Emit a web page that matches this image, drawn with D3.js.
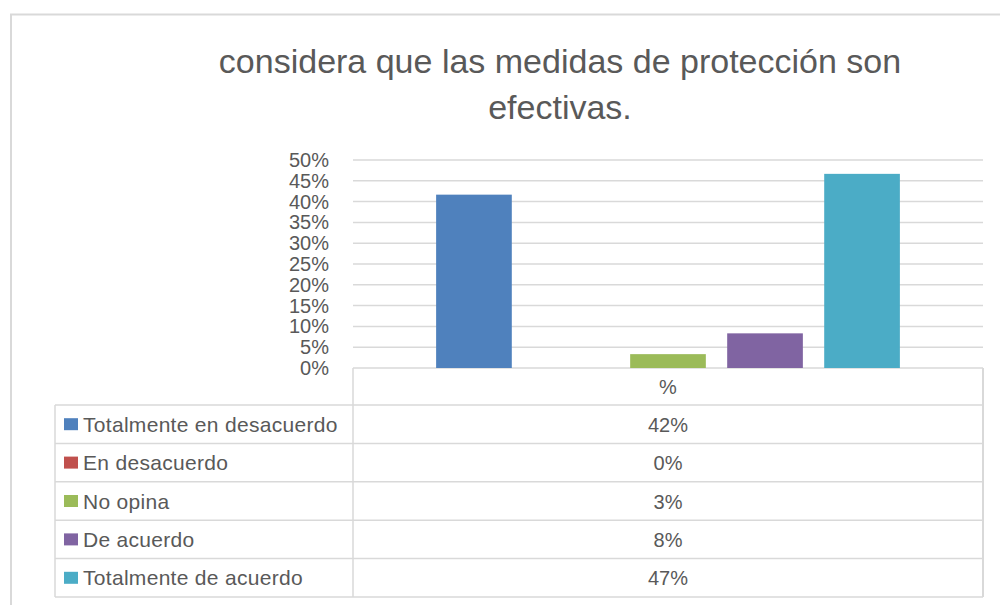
<!DOCTYPE html>
<html>
<head>
<meta charset="utf-8">
<script src="https://cdn.jsdelivr.net/npm/d3@7"></script>
<style>
  body { margin: 0; background: #fff; }
  text { font-family: "Liberation Sans", Arial, sans-serif; fill: #595959; }
</style>
</head>
<body>
<div id="chart"></div>
<script>
// data
const titleLines = ["considera que las medidas de protección son", "efectivas."];
const categories = ["%"];
const series = ["Totalmente en desacuerdo", "En desacuerdo", "No opina", "De acuerdo", "Totalmente de acuerdo"];
const values = [0.4167, 0, 0.0333, 0.0833, 0.4667];
const valueLabels = ["42%", "0%", "3%", "8%", "47%"];
const tickValues = [0, 0.05, 0.10, 0.15, 0.20, 0.25, 0.30, 0.35, 0.40, 0.45, 0.50];
const tickLabels = ["0%", "5%", "10%", "15%", "20%", "25%", "30%", "35%", "40%", "45%", "50%"];
const colors = ["#4F81BD", "#C0504D", "#9BBB59", "#8064A2", "#4BACC6"];

const W = 1000, H = 605;
const plot = {left: 353, right: 983, top: 160, bottom: 368};
const table = {left: 55, headerH: 37, rowH: 38.4};

const svg = d3.select("#chart").append("svg")
    .attr("width", W)
    .attr("height", H);

// outer chart border
svg.append("path")
    .attr("d", `M11,${H} V14.5 H${W}`)
    .attr("fill", "none")
    .attr("stroke", "#d9d9d9")
    .attr("stroke-width", 2);

// title
svg.append("g").selectAll("text")
    .data(titleLines)
    .enter().append("text")
    .attr("x", 560)
    .attr("y", (d, i) => 73 + i * 46)
    .attr("text-anchor", "middle")
    .style("font-size", "34px")
    .text(d => d);

// scales
const y = d3.scaleLinear()
    .domain([0, 0.5])
    .range([plot.bottom, plot.top]);

const x0 = d3.scaleBand()
    .domain(categories)
    .range([plot.left, plot.right]);

const x1 = d3.scaleBand()
    .domain(series)
    .range([x0.bandwidth() * 0.115, x0.bandwidth() * 0.885])
    .paddingInner(0.22)
    .paddingOuter(0.11);

// gridlines
svg.append("g")
    .selectAll("line")
    .data(tickValues)
    .enter().append("line")
    .attr("x1", plot.left)
    .attr("x2", plot.right)
    .attr("y1", d => y(d))
    .attr("y2", d => y(d))
    .attr("stroke", "#d9d9d9")
    .attr("stroke-width", 1.5);

// y axis labels
const yAxis = svg.append("g")
    .attr("transform", `translate(${plot.left},0)`)
    .call(d3.axisLeft(y)
        .tickValues(tickValues)
        .tickFormat((d, i) => tickLabels[i])
        .tickSize(0)
        .tickPadding(24));
yAxis.select(".domain").remove();
yAxis.selectAll("text")
    .style("font-family", "'Liberation Sans', Arial, sans-serif")
    .style("font-size", "20px")
    .attr("fill", "#595959");

// bars
svg.append("g")
    .selectAll("rect")
    .data(series)
    .enter().append("rect")
    .attr("x", d => x0(categories[0]) + x1(d))
    .attr("width", x1.bandwidth())
    .attr("y", (d, i) => y(values[i]))
    .attr("height", (d, i) => y(0) - y(values[i]))
    .attr("fill", (d, i) => colors[i]);

// data table
const tbl = svg.append("g");
const tTop = plot.bottom;
const rowTop = i => tTop + table.headerH + i * table.rowH;
const tBottom = rowTop(series.length);

// horizontal lines
tbl.selectAll("line.h")
    .data(d3.range(series.length + 1))
    .enter().append("line")
    .attr("class", "h")
    .attr("x1", table.left)
    .attr("x2", plot.right)
    .attr("y1", i => rowTop(i))
    .attr("y2", i => rowTop(i))
    .attr("stroke", "#d9d9d9")
    .attr("stroke-width", 1.5);

// vertical lines
tbl.append("line")
    .attr("x1", table.left).attr("x2", table.left)
    .attr("y1", rowTop(0)).attr("y2", tBottom)
    .attr("stroke", "#d9d9d9").attr("stroke-width", 1.5);
tbl.append("line")
    .attr("x1", plot.left).attr("x2", plot.left)
    .attr("y1", tTop).attr("y2", tBottom)
    .attr("stroke", "#d9d9d9").attr("stroke-width", 1.5);
tbl.append("line")
    .attr("x1", plot.right).attr("x2", plot.right)
    .attr("y1", tTop).attr("y2", tBottom)
    .attr("stroke", "#d9d9d9").attr("stroke-width", 2);

// header "%"
tbl.append("text")
    .attr("x", x0(categories[0]) + x0.bandwidth() / 2)
    .attr("y", tTop + table.headerH / 2 + 7)
    .attr("text-anchor", "middle")
    .style("font-size", "20px")
    .text(categories[0]);

// legend keys and labels
const rows = tbl.selectAll("g.row")
    .data(series)
    .enter().append("g")
    .attr("class", "row")
    .attr("transform", (d, i) => `translate(0,${rowTop(i) + table.rowH / 2})`);

rows.append("rect")
    .attr("x", 64)
    .attr("y", -6)
    .attr("width", 14)
    .attr("height", 12)
    .attr("fill", (d, i) => colors[i]);

rows.append("text")
    .attr("x", 83)
    .attr("y", 7.5)
    .style("font-size", "21px")
    .style("letter-spacing", "0.3px")
    .text(d => d);

rows.append("text")
    .attr("x", x0(categories[0]) + x0.bandwidth() / 2)
    .attr("y", 7.5)
    .attr("text-anchor", "middle")
    .style("font-size", "20px")
    .text((d, i) => valueLabels[i]);
</script>
</body>
</html>
